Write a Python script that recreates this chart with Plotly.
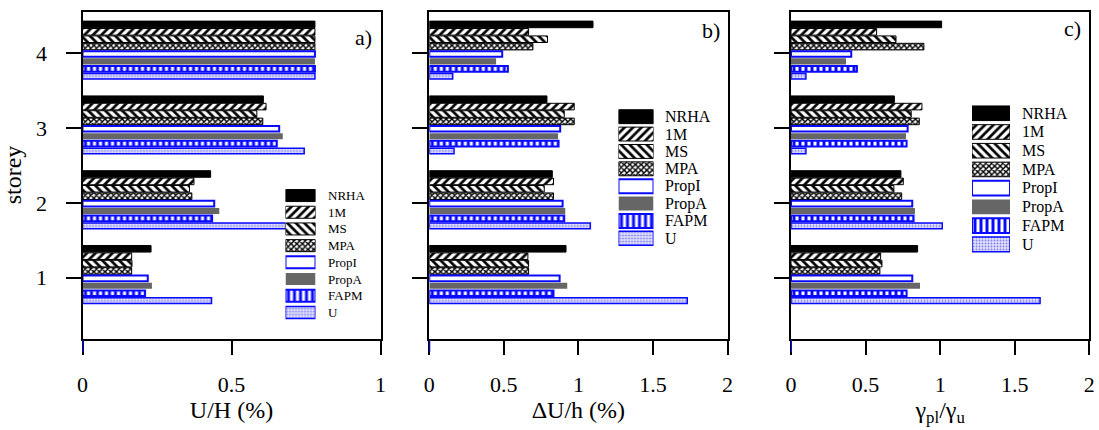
import plotly.graph_objects as go

# ---------------- data ----------------
storeys = [1, 2, 3, 4]
series = ["NRHA", "1M", "MS", "MPA", "PropI", "PropA", "FAPM", "U"]

# roof drift U/H (%) per storey, rows follow `series`
roof_drift = [
    [0.230, 0.430, 0.607, 0.780],
    [0.165, 0.374, 0.616, 0.780],
    [0.166, 0.359, 0.585, 0.780],
    [0.165, 0.367, 0.605, 0.780],
    [0.219, 0.442, 0.660, 0.780],
    [0.233, 0.459, 0.672, 0.780],
    [0.210, 0.435, 0.652, 0.780],
    [0.433, 0.700, 0.744, 0.780],
]

# interstorey drift dU/h (%)
storey_drift = [
    [0.917, 0.825, 0.789, 1.098],
    [0.661, 0.833, 0.972, 0.666],
    [0.666, 0.771, 0.905, 0.793],
    [0.666, 0.833, 0.972, 0.695],
    [0.874, 0.894, 0.878, 0.489],
    [0.925, 0.912, 0.863, 0.448],
    [0.833, 0.905, 0.867, 0.527],
    [1.730, 1.080, 0.166, 0.157],
]

# plastic rotation demand ratio gamma_pl / gamma_u
rotation_ratio = [
    [0.849, 0.737, 0.693, 1.010],
    [0.601, 0.753, 0.878, 0.574],
    [0.610, 0.690, 0.806, 0.704],
    [0.596, 0.742, 0.860, 0.891],
    [0.813, 0.813, 0.782, 0.404],
    [0.865, 0.831, 0.771, 0.369],
    [0.775, 0.822, 0.775, 0.442],
    [1.670, 1.014, 0.100, 0.100],
]

x_titles = ["U/H (%)", "\u0394U/h (%)", "\u03b3<sub>pl</sub>/\u03b3<sub>u</sub>"]
panel_tags = ["a)", "b)", "c)"]
x_max = [1, 2, 2]

# ---------------- styling ----------------
W, H = 1099, 430
FONT = "Liberation Serif, Times New Roman, serif"
BLUE = "#0a0aff"


def fx(p):
    return p / W


def fy(p):
    return 1 - p / H


def marker_for(name):
    if name == "NRHA":
        return dict(color="black", line=dict(color="black", width=1))
    if name in ("1M", "MS", "MPA"):
        shape = {"1M": "/", "MS": "\\", "MPA": "x"}[name]
        size = 4 if name == "MPA" else 6
        solidity = 0.6 if name == "MPA" else 0.45
        return dict(color="white", line=dict(color="black", width=1),
                    pattern=dict(shape=shape, fgcolor="black", bgcolor="white",
                                 size=size, solidity=solidity, fillmode="replace"))
    if name == "PropI":
        return dict(color="white", line=dict(color=BLUE, width=2))
    if name == "PropA":
        return dict(color="#666666", line=dict(width=0))
    if name == "FAPM":
        return dict(color="white", line=dict(color=BLUE, width=2),
                    pattern=dict(shape="|", fgcolor=BLUE, bgcolor="white",
                                 size=6, solidity=0.5, fillmode="replace"))
    return dict(color="#e2e2f8", line=dict(color=BLUE, width=1.5),
                pattern=dict(shape=".", fgcolor="#7c7cf0", bgcolor="#e6e6fa",
                             size=3, solidity=0.35, fillmode="replace"))


def bar_thickness(name):
    if name in ("PropI", "FAPM", "U"):
        return 0.075
    if name == "PropA":
        return 0.082
    return 0.088


panels_px = [(82.5, 380.5), (429.3, 727.5), (791.0, 1089.3)]
y_dom = [fy(338.5), fy(11.5)]
y_range = [0.187, 4.559]
group_top = 0.436
pitch = 0.099

legend_px = [
    dict(x=(285.5, 315.5), y=(187.2, 320.8), text_x=326, h=0.72, size=13),
    dict(x=(618.5, 653.5), y=(108.0, 247.0), text_x=663, h=0.80, size=16),
    dict(x=(972.0, 1010.0), y=(103.9, 253.7), text_x=1020, h=0.78, size=16),
]
tag_pos = [(363, 37), (711, 30), (1072, 28)]

fig = go.Figure()
datasets = [roof_drift, storey_drift, rotation_ratio]

for p, data in enumerate(datasets):
    xa = "x" if p == 0 else f"x{p + 1}"
    ya = "y" if p == 0 else f"y{p + 1}"
    for i, name in enumerate(series):
        w = bar_thickness(name)
        centre = group_top - pitch * (i + 0.5)
        fig.add_trace(go.Bar(
            x=data[i], y=storeys, orientation="h", name=name,
            width=w, offset=centre - w / 2,
            marker=marker_for(name), xaxis=xa, yaxis=ya,
            showlegend=False, hoverinfo="x+name",
        ))
    # legend swatches drawn as unit bars on their own small axes
    lx = f"x{p + 4}"
    ly = f"y{p + 4}"
    lg = legend_px[p]
    for k, name in enumerate(series):
        fig.add_trace(go.Bar(
            x=[1], y=[k], base=0, orientation="h", width=lg["h"],
            marker=marker_for(name), xaxis=lx, yaxis=ly,
            showlegend=False, hoverinfo="skip",
        ))
        fig.add_annotation(
            x=fx(lg["text_x"]), xref="paper", y=k, yref=ly,
            text=name, showarrow=False, xanchor="left", yanchor="middle",
            font=dict(family=FONT, size=lg["size"], color="black"),
        )
    # short blue marker under the origin of each panel
    fig.add_shape(
        type="line", xref=xa, yref="paper", x0=0, x1=0,
        y0=fy(352), y1=fy(340), line=dict(color=BLUE, width=2),
    )

layout = dict(
    width=W, height=H, margin=dict(l=0, r=0, t=0, b=0),
    paper_bgcolor="white", plot_bgcolor="white",
    barmode="overlay", showlegend=False,
    font=dict(family=FONT, color="black"),
)

for p in range(3):
    suffix = "" if p == 0 else str(p + 1)
    x0, x1 = panels_px[p]
    layout["xaxis" + suffix] = dict(
        domain=[fx(x0), fx(x1)], range=[0, x_max[p]], dtick=0.5,
        anchor="y" + suffix, showline=True, linewidth=2, linecolor="black",
        mirror=True, ticks="outside", ticklen=14, tickwidth=2, tickcolor="black",
        showgrid=False, zeroline=False, ticklabelstandoff=11,
        tickfont=dict(family=FONT, size=22, color="black"),
        title=dict(text=x_titles[p], standoff=5,
                   font=dict(family=FONT, size=24, color="black")),
        automargin=False, fixedrange=True,
    )
    yaxis = dict(
        domain=y_dom, range=y_range, tickvals=storeys,
        anchor="x" + suffix, showline=True, linewidth=2, linecolor="black",
        mirror=True, ticks="outside", ticklen=15, tickwidth=2, tickcolor="black",
        showgrid=False, zeroline=False, showticklabels=(p == 0),
        ticklabelstandoff=14,
        tickfont=dict(family=FONT, size=22, color="black"),
        automargin=False, fixedrange=True,
    )
    if p == 0:
        yaxis["title"] = dict(text="storey", standoff=8,
                              font=dict(family=FONT, size=24, color="black"))
    layout["yaxis" + suffix] = yaxis
    lg = legend_px[p]
    layout[f"xaxis{p + 4}"] = dict(
        domain=[fx(lg["x"][0]), fx(lg["x"][1])], range=[0, 1],
        anchor=f"y{p + 4}", visible=False, fixedrange=True,
    )
    layout[f"yaxis{p + 4}"] = dict(
        domain=[fy(lg["y"][1]), fy(lg["y"][0])], range=[7.5, -0.5],
        anchor=f"x{p + 4}", visible=False, fixedrange=True,
    )

fig.update_layout(**layout)

for p, (tx, ty) in enumerate(tag_pos):
    fig.add_annotation(
        x=fx(tx), y=fy(ty), xref="paper", yref="paper", text=panel_tags[p],
        showarrow=False, xanchor="center", yanchor="middle",
        font=dict(family=FONT, size=22, color="black"),
    )

fig.write_html("out.html")
